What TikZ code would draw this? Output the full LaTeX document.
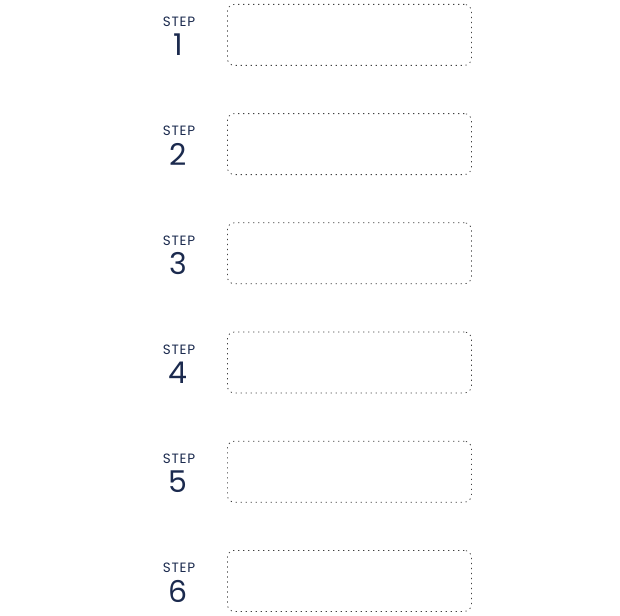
\documentclass[tikz,border=0pt]{standalone}
\usepackage{fontspec}
\setmainfont{Poppins}
\newfontfamily\stepfont[LetterSpace=6]{Poppins}
\definecolor{navy}{HTML}{1B2A4E}
\begin{document}
\begin{tikzpicture}[x=1pt,y=-1pt,
  stepbox/.style={draw=black!75, line width=0.8pt, dash pattern=on 1.2pt off 3.8pt, rounded corners=7pt, minimum width=244pt, minimum height=61pt, inner sep=0pt, anchor=north west},
  steplabel/.style={text=navy, font=\stepfont\fontsize{13.5}{13.5}\selectfont, inner sep=0pt},
  stepnum/.style={text=navy, font=\fontsize{30}{30}\selectfont, inner sep=0pt}]
\useasboundingbox (0,0) rectangle (620,615);
\foreach \i in {1,...,6} {
  \pgfmathsetmacro{\yy}{4+(\i-1)*109.2}
  \node[stepbox] (box\i) at (227,\yy) {};
  \node[steplabel] (lab\i) at (179,\yy+18) {STEP};
  \node[stepnum] (num\i) at (178,\yy+41) {\i};
}
\end{tikzpicture}
\end{document}
